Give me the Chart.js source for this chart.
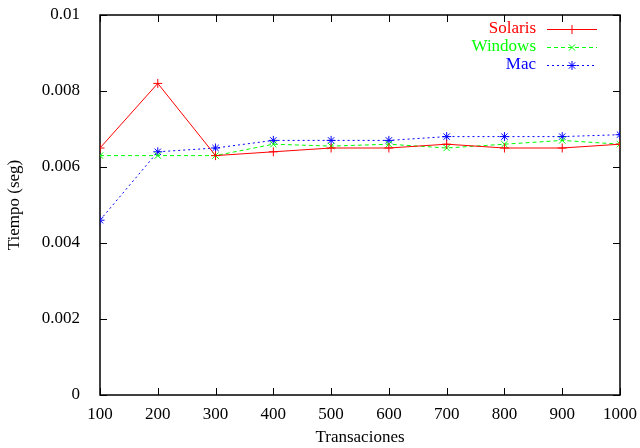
<!DOCTYPE html>
<html>
<head>
<meta charset="utf-8">
<script src="https://cdn.jsdelivr.net/npm/chart.js@4/dist/chart.umd.min.js"></script>
<style>
  body { margin: 0; background: #fff; }
  #wrap { width: 640px; height: 448px; }
</style>
</head>
<body>
<div id="wrap"><canvas id="myChart"></canvas></div>
<script>
const transacciones = [100, 200, 300, 400, 500, 600, 700, 800, 900, 1000];
const solaris = [0.0065, 0.0082, 0.0063, 0.0064, 0.0065, 0.0065, 0.0066, 0.0065, 0.0065, 0.0066];
const windows = [0.0063, 0.0063, 0.0063, 0.0066, 0.00655, 0.0066, 0.0065, 0.0066, 0.0067, 0.0066];
const mac = [0.0046, 0.0064, 0.0065, 0.0067, 0.0067, 0.0067, 0.0068, 0.0068, 0.0068, 0.00685];
const seriesNames = ['Solaris', 'Windows', 'Mac'];
const yTicks = [0, 0.002, 0.004, 0.006, 0.008, 0.01];

const FONT = '"Liberation Serif", "DejaVu Serif", serif';

const colors = ['#ff0000', '#00ff00', '#0000ff'];
const dashes = [[], [4, 3], [2, 3]];
const styles = ['cross', 'crossRot', 'star'];
const data = [solaris, windows, mac];

const toPoints = vals => vals.map((v, i) => ({ x: transacciones[i], y: v }));

// gnuplot style box with inward ticks on all four sides
const frame = {
  id: 'frame',
  beforeDatasetsDraw(chart) {
    const { ctx, chartArea: a, scales } = chart;
    ctx.save();
    ctx.strokeStyle = '#000';
    ctx.lineWidth = 1;
    ctx.beginPath();
    scales.x.ticks.forEach(t => {
      const px = Math.round(scales.x.getPixelForValue(t.value)) + 0.5;
      ctx.moveTo(px, a.bottom); ctx.lineTo(px, a.bottom - 7);
      ctx.moveTo(px, a.top); ctx.lineTo(px, a.top + 7);
    });
    scales.y.ticks.forEach(t => {
      const py = Math.round(scales.y.getPixelForValue(t.value)) + 0.5;
      ctx.moveTo(a.left, py); ctx.lineTo(a.left + 7, py);
      ctx.moveTo(a.right, py); ctx.lineTo(a.right - 7, py);
    });
    ctx.stroke();
    ctx.lineWidth = 1.5;
    ctx.strokeRect(a.left, a.top, a.right - a.left, a.bottom - a.top);
    ctx.restore();
  }
};

// key drawn inside the top right corner
const key = {
  id: 'key',
  afterDatasetsDraw(chart) {
    const { ctx } = chart;
    chart.data.datasets.forEach((ds, i) => {
      const y = 29 + i * 18;
      const c = colors[i];
      ctx.save();
      ctx.font = '17px ' + FONT;
      ctx.textAlign = 'right';
      ctx.textBaseline = 'middle';
      ctx.fillStyle = c;
      ctx.fillText(ds.label, 536, y);
      // sample line as filled segments
      const d = dashes[i];
      let x = 547;
      if (!d.length) {
        ctx.fillRect(547, y, 50, 1);
      } else {
        while (x < 597) {
          ctx.fillRect(x, y, Math.min(d[0], 597 - x), 1);
          x += d[0] + d[1];
        }
      }
      ctx.strokeStyle = c;
      Chart.helpers.drawPoint(ctx, { pointStyle: styles[i], radius: 4.5, borderWidth: 1 }, 572, y + 0.5);
      ctx.restore();
    });
  }
};

new Chart(document.getElementById('myChart'), {
  type: 'line',
  data: {
    datasets: seriesNames.map((name, i) => ({
      label: name,
      data: toPoints(data[i]),
      borderColor: colors[i],
      backgroundColor: colors[i],
      borderWidth: 1,
      borderDash: dashes[i],
      pointStyle: styles[i],
      pointRadius: 4.5,
      pointBorderWidth: 1,
      tension: 0
    }))
  },
  options: {
    responsive: true,
    maintainAspectRatio: false,
    animation: false,
    layout: { padding: { top: 15, right: 20, left: 4, bottom: 0 } },
    plugins: { legend: { display: false }, tooltip: { enabled: false } },
    scales: {
      x: {
        type: 'linear',
        min: 100, max: 1000,
        border: { display: false },
        grid: { display: false },
        ticks: {
          stepSize: 100,
          color: '#000',
          font: { family: FONT, size: 17 },
          padding: 1,
          maxRotation: 0,
          callback: v => String(v)
        },
        title: {
          display: true, text: 'Transaciones', color: '#000',
          font: { family: FONT, size: 17 }, padding: { top: 4, bottom: 0 }
        },
        afterFit(s) { s.height = 53; s.paddingLeft = 0; s.paddingRight = 0; }
      },
      y: {
        min: 0, max: 0.01,
        border: { display: false },
        grid: { display: false },
        afterBuildTicks(s) { s.ticks = yTicks.map(v => ({ value: v })); },
        ticks: {
          color: '#000',
          font: { family: FONT, size: 17 },
          padding: 12,
          callback: v => String(+v.toFixed(3))
        },
        title: {
          display: true, text: 'Tiempo (seg)', color: '#000',
          font: { family: FONT, size: 17 }, padding: { top: 0, bottom: 0 }
        },
        afterFit(s) { s.width = 96; s.paddingTop = 0; s.paddingBottom = 0; }
      }
    }
  },
  plugins: [frame, key]
});
</script>
</body>
</html>
